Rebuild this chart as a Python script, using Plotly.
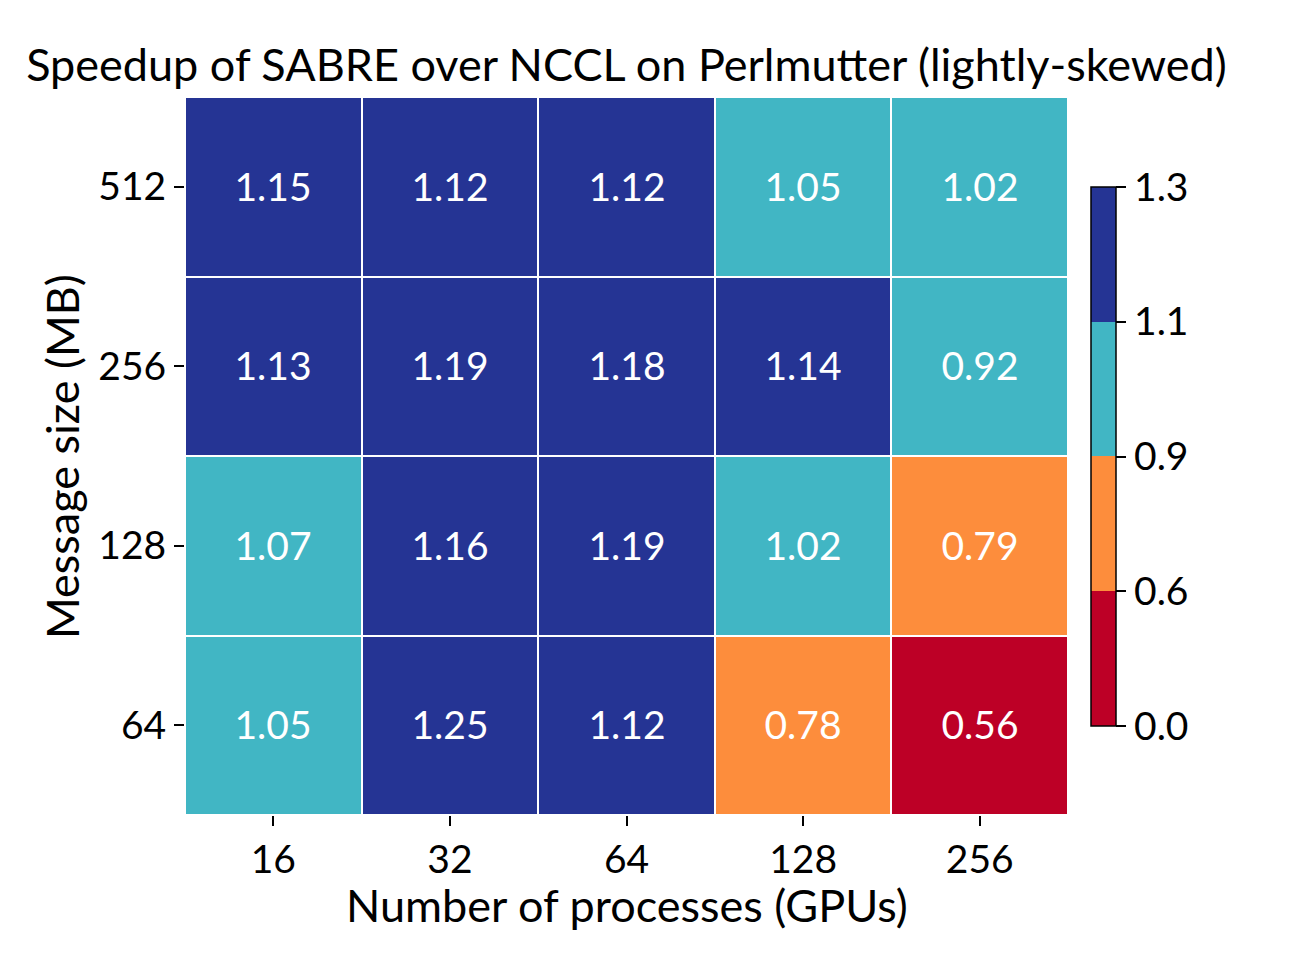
import numpy as np
import plotly.graph_objects as go

gpus = ["16", "32", "64", "128", "256"]
msg_sizes = ["64", "128", "256", "512"]  # bottom to top
# rows correspond to msg_sizes (64, 128, 256, 512)
speedup = [
    [1.05, 1.25, 1.12, 0.78, 0.56],
    [1.07, 1.16, 1.19, 1.02, 0.79],
    [1.13, 1.19, 1.18, 1.14, 0.92],
    [1.15, 1.12, 1.12, 1.05, 1.02],
]
bounds = [0.0, 0.6, 0.9, 1.1, 1.3]
bound_labels = ["0.0", "0.6", "0.9", "1.1", "1.3"]
colors = ["#bd0026", "#fd8d3c", "#41b6c4", "#253494"]

vals = np.array(speedup)
# map to equal-width bins (BoundaryNorm-like)
zidx = np.interp(vals, bounds, np.arange(len(bounds)))

cs = []
n = len(colors)
for i, c in enumerate(colors):
    cs.append([i / n, c])
    cs.append([(i + 1) / n, c])

FONT = "Lato"
TICK = 39
LAB = 45
L, R, T, B = 185, 1068, 97, 815
W, H = 1296, 972

fig = go.Figure(go.Heatmap(
    x=gpus, y=msg_sizes, z=zidx,
    zmin=0, zmax=n, colorscale=cs,
    xgap=2, ygap=2,
    text=[[f"{v:.2f}" for v in row] for row in speedup],
    texttemplate="%{text}",
    textfont=dict(family=FONT, size=TICK, color="white"),
    hoverinfo="skip",
    colorbar=dict(
        tickvals=list(range(len(bounds))), ticktext=bound_labels,
        x=(1091 - L) / (R - L), xanchor="left", xref="paper",
        y=(B - 456.5) / (B - T), yanchor="middle",
        len=(726 - 187) / (B - T), lenmode="fraction",
        thickness=25, thicknessmode="pixels",
        outlinecolor="black", outlinewidth=1.5,
        ticks="outside", ticklen=10, tickcolor="black", tickwidth=1.5,
        tickfont=dict(family=FONT, size=TICK, color="black"),
        xpad=0, ypad=0,
    ),
))

fig.update_layout(
    width=W, height=H,
    margin=dict(l=L, r=W - R, t=T, b=H - B),
    paper_bgcolor="white", plot_bgcolor="white",
    font=dict(family=FONT, color="black"),
    title=dict(text="Speedup of SABRE over NCCL on Perlmutter (lightly-skewed)",
               x=(L + R) / 2 / W, xanchor="center", y=1 - 65 / H, yanchor="middle",
               font=dict(family=FONT, size=LAB, color="black")),
    xaxis=dict(type="category", showgrid=False, zeroline=False, showline=False,
               ticks="outside", ticklen=10, tickwidth=1.5, tickcolor="black",
               tickfont=dict(family=FONT, size=TICK)),
    yaxis=dict(type="category", showgrid=False, zeroline=False, showline=False,
               ticks="outside", ticklen=10, tickwidth=1.5, tickcolor="black",
               tickfont=dict(family=FONT, size=TICK)),
    annotations=[
        dict(text="Message size (MB)", xref="paper", yref="paper",
             x=(62 - L) / (R - L), y=(B - 457) / (B - T),
             xanchor="center", yanchor="middle", textangle=-90,
             showarrow=False, font=dict(family=FONT, size=LAB, color="black")),
        dict(text="Number of processes (GPUs)", xref="paper", yref="paper",
             x=0.5, y=(B - 905) / (B - T),
             xanchor="center", yanchor="middle",
             showarrow=False, font=dict(family=FONT, size=LAB, color="black")),
    ],
)

fig.write_html("out.html")
